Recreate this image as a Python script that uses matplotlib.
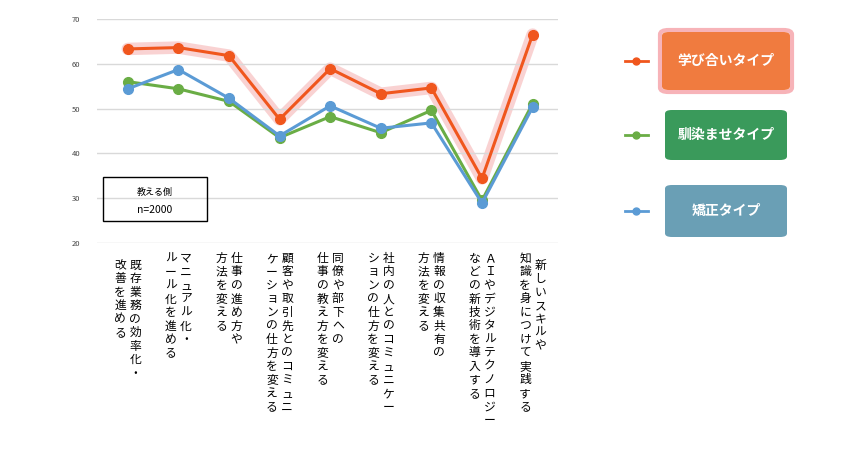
import matplotlib.pyplot as plt
from matplotlib.patches import FancyBboxPatch, Rectangle
from matplotlib.lines import Line2D

plt.rcParams["font.family"] = "Noto Sans CJK JP"

labels_right = ["既存業務の効率化・", "マニュアル化・", "仕事の進め方や", "顧客や取引先とのコミュニ",
                "同僚や部下への", "社内の人とのコミュニケー", "情報の収集共有の",
                "ＡＩやデジタルテクノロジー", "新しいスキルや"]
labels_left = ["改善を進める", "ルール化を進める", "方法を変える", "ケーションの仕方を変える",
               "仕事の教え方を変える", "ションの仕方を変える", "方法を変える",
               "などの新技術を導入する", "知識を身につけて実践する"]
manabi = [63.3, 63.6, 61.8, 47.6, 58.9, 53.3, 54.6, 34.4, 66.5]
najimase = [56.0, 54.4, 51.6, 43.5, 48.2, 44.6, 49.6, 29.5, 51.1]
kyosei = [54.4, 58.7, 52.3, 43.9, 50.6, 45.6, 46.8, 28.9, 50.3]
series_names = ["学び合いタイプ", "馴染ませタイプ", "矯正タイプ"]

c_or, c_gr, c_bl = "#f0561d", "#6aad45", "#5b9bd5"

fig = plt.figure(figsize=(8.65, 4.5), dpi=100)
ax = fig.add_axes([0.112, 0.46, 0.533, 0.498])
x = list(range(len(manabi)))
ax.plot(x, manabi, color="#f08080", lw=9, alpha=0.35, solid_capstyle="round", zorder=1)
ax.plot(x, najimase, color=c_gr, lw=2.2, marker="o", ms=7, zorder=2)
ax.plot(x, kyosei, color=c_bl, lw=2.2, marker="o", ms=7, zorder=3)
ax.plot(x, manabi, color=c_or, lw=2.2, marker="o", ms=7, zorder=4)

ax.set_xlim(-0.61, 8.5)
ax.set_ylim(20, 70)
ax.set_yticks(range(20, 71, 10))
ax.tick_params(axis="y", labelsize=5.5, colors="#444444", length=0, pad=12)
ax.set_xticks([])
ax.grid(axis="y", color="#d9d9d9", lw=1)
for s in ax.spines.values():
    s.set_visible(False)

# vertical category labels (right column first, as in vertical writing)
for i, (r, l) in enumerate(zip(labels_right, labels_left)):
    y_r = 16.5 if i in (0, 8) else 18.0
    y_l = 16.5 if i == 0 else 18.0
    ax.text(i + 0.15, y_r, "\n".join(r), ha="center", va="top",
            fontsize=8.5, linespacing=1.05, clip_on=False)
    ax.text(i - 0.15, y_l, "\n".join(l), ha="center", va="top",
            fontsize=8.5, linespacing=1.05, clip_on=False)

# note box
fig.patches.append(Rectangle((103 / 865, 1 - 221 / 450), 104 / 865, 44 / 450,
                             transform=fig.transFigure, fill=False, ec="black", lw=1))
fig.text(155 / 865, 1 - 192 / 450, "教える側", ha="center", va="center", fontsize=6.5)
fig.text(155 / 865, 1 - 210 / 450, "n=2000", ha="center", va="center", fontsize=7.5)

# legend boxes
boxes = [(662, 32, 128, 58, "#f07b3f", c_or), (665, 110, 122, 50, "#3a9a5b", c_gr),
         (665, 185, 122, 52, "#6a9fb5", c_bl)]
for (bx, by, bw, bh, fc, lc), name in zip(boxes, series_names):
    if fc == "#f07b3f":
        fig.patches.append(FancyBboxPatch(((bx - 2) / 865, 1 - (by + bh + 2) / 450), (bw + 4) / 865,
                                          (bh + 4) / 450, boxstyle="round,pad=0,rounding_size=0.01",
                                          transform=fig.transFigure, fc="none", ec="#f7b3b8", lw=3))
    fig.patches.append(FancyBboxPatch((bx / 865, 1 - (by + bh) / 450), bw / 865, bh / 450,
                                      boxstyle="round,pad=0,rounding_size=0.008",
                                      transform=fig.transFigure, fc=fc, ec="none"))
    cy = 1 - (by + bh / 2) / 450
    fig.text((bx + bw / 2) / 865, cy, name, ha="center", va="center", color="white",
             fontsize=10, fontweight="bold")
    fig.lines.append(Line2D([625 / 865, 648 / 865], [cy, cy], transform=fig.transFigure,
                            color=lc, lw=2))
    fig.lines.append(Line2D([636 / 865], [cy], transform=fig.transFigure, color=lc, marker="o", ms=5))

fig.savefig("out.png", dpi=100)
